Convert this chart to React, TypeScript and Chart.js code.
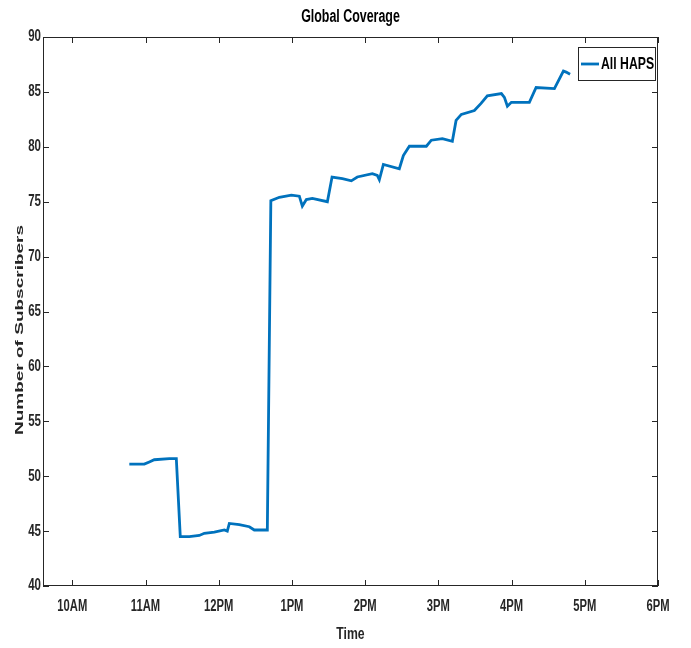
import React, { useEffect, useRef } from "react";
import { Chart, registerables } from "chart.js";

Chart.register(...registerables);

// Time of day in hours (decimal)
const hours = [
  10.779, 10.984, 11.052, 11.12, 11.325, 11.421,
  11.475, 11.598, 11.735, 11.803, 11.94, 12.077, 12.117, 12.145, 12.281, 12.418, 12.486, 12.664,
  12.712, 12.828, 12.992, 13.101, 13.142, 13.197, 13.279, 13.484,
  13.548, 13.689, 13.811, 13.893, 14.098, 14.166, 14.194,
  14.249, 14.467, 14.522, 14.604, 14.836, 14.904, 15.055, 15.191,
  15.242, 15.314, 15.492, 15.583, 15.669, 15.861, 15.902, 15.943, 15.997, 16.243,
  16.335, 16.585, 16.708, 16.745, 16.799,
];
// Number of subscribers covered by all HAPS
const subscribers = [
  51.1, 51.1, 51.3, 51.5, 51.6, 51.6,
  44.5, 44.5, 44.6, 44.8, 44.9, 45.1, 45.0, 45.7, 45.6, 45.4, 45.1, 45.1,
  75.1, 75.4, 75.6, 75.5, 74.6, 75.2, 75.3, 75.0,
  77.25, 77.1, 76.9, 77.25, 77.55, 77.4, 77.0,
  78.4, 78.0, 79.2, 80.05, 80.05, 80.6, 80.75, 80.5,
  82.4, 82.95, 83.3, 83.95, 84.65, 84.85, 84.5, 83.7, 84.05, 84.05,
  85.4, 85.3, 86.9, 86.8, 86.6,
];
const xTickHours = [10, 11, 12, 13, 14, 15, 16, 17, 18];
const xTickLabels = ["10AM", "11AM", "12PM", "1PM", "2PM", "3PM", "4PM", "5PM", "6PM"];
const yTickValues = [40, 45, 50, 55, 60, 65, 70, 75, 80, 85, 90];
const seriesLabel = "All HAPS";
const chartTitle = "Global Coverage";
const xAxisTitle = "Time";
const yAxisTitle = "Number of Subscribers";

const LINE_COLOR = "#0072BD";
const AXIS_COLOR = "#262626";
const FONT = "'Liberation Sans', Arial, sans-serif";

function condensedText(
  ctx: CanvasRenderingContext2D,
  text: string,
  x: number,
  y: number,
  size: number,
  squeeze: number,
  align: CanvasTextAlign,
  color: string
) {
  ctx.save();
  ctx.translate(x, y);
  ctx.scale(squeeze, 1);
  ctx.font = `bold ${size}px ${FONT}`;
  ctx.fillStyle = color;
  ctx.textAlign = align;
  ctx.textBaseline = "middle";
  ctx.fillText(text, 0, 0);
  ctx.restore();
}

const matlabPlugin = {
  id: "matlabDecor",
  afterDraw(chart: any) {
    const { ctx, chartArea } = chart;
    const { left, right, top, bottom } = chartArea;
    const xs = chart.scales.x;
    const ys = chart.scales.y;
    ctx.save();
    // box
    ctx.strokeStyle = AXIS_COLOR;
    ctx.lineWidth = 1;
    ctx.strokeRect(left + 0.5, top + 0.5, right - left - 1, bottom - top - 1);
    // inward ticks
    const tl = 6;
    ctx.beginPath();
    xs.ticks.forEach((t: any) => {
      const px = Math.round(xs.getPixelForValue(t.value)) + 0.5;
      ctx.moveTo(px, bottom);
      ctx.lineTo(px, bottom - tl);
      ctx.moveTo(px, top);
      ctx.lineTo(px, top + tl);
    });
    ys.ticks.forEach((t: any) => {
      const py = Math.round(ys.getPixelForValue(t.value)) + 0.5;
      ctx.moveTo(left, py);
      ctx.lineTo(left + tl, py);
      ctx.moveTo(right, py);
      ctx.lineTo(right - tl, py);
    });
    ctx.stroke();

    // tick labels
    xs.ticks.forEach((t: any) => {
      const i = xTickHours.indexOf(t.value);
      if (i < 0) return;
      condensedText(ctx, xTickLabels[i], xs.getPixelForValue(t.value), bottom + 21, 16, 0.7, "center", AXIS_COLOR);
    });
    ys.ticks.forEach((t: any) => {
      condensedText(ctx, String(t.value), left - 2, ys.getPixelForValue(t.value), 16, 0.72, "right", AXIS_COLOR);
    });

    // x axis title
    condensedText(ctx, xAxisTitle, (left + right) / 2, 634, 17, 0.72, "center", AXIS_COLOR);

    // chart title
    condensedText(ctx, chartTitle, (left + right) / 2, 17, 17.5, 0.71, "center", "#000");

    // y axis title
    ctx.save();
    ctx.translate(19.5, 330);
    ctx.rotate(-Math.PI / 2);
    ctx.scale(1, 0.62);
    ctx.font = `bold 19px ${FONT}`;
    ctx.fillStyle = AXIS_COLOR;
    ctx.textAlign = "center";
    ctx.textBaseline = "middle";
    ctx.fillText(yAxisTitle, 0, 0);
    ctx.restore();

    // legend
    const lx = 578, ly = 47, lw = 77, lh = 33;
    ctx.fillStyle = "#fff";
    ctx.fillRect(lx, ly, lw, lh);
    ctx.strokeStyle = AXIS_COLOR;
    ctx.lineWidth = 1;
    ctx.strokeRect(lx + 0.5, ly + 0.5, lw, lh);
    ctx.strokeStyle = LINE_COLOR;
    ctx.lineWidth = 2.8;
    ctx.beginPath();
    ctx.moveTo(lx + 3, ly + 17);
    ctx.lineTo(lx + 21, ly + 17);
    ctx.stroke();
    condensedText(ctx, seriesLabel, lx + 23, ly + 17, 17, 0.72, "left", "#000");
    ctx.restore();
  },
};

export default function App() {
  const canvasRef = useRef<HTMLCanvasElement | null>(null);

  useEffect(() => {
    const canvas = canvasRef.current;
    if (!canvas) return;
    const chart = new Chart(canvas, {
      type: "line",
      data: {
        datasets: [
          {
            label: seriesLabel,
            data: hours.map((h, i) => ({ x: h, y: subscribers[i] })),
            borderColor: LINE_COLOR,
            backgroundColor: LINE_COLOR,
            borderWidth: 2.8,
            pointRadius: 0,
            tension: 0,
            fill: false,
          },
        ],
      },
      options: {
        animation: false,
        responsive: false,
        devicePixelRatio: 1,
        layout: { padding: { left: 0, right: 33, top: 37, bottom: 0 } },
        plugins: {
          legend: { display: false },
          title: { display: false },
          tooltip: { enabled: false },
        },
        scales: {
          x: {
            type: "linear",
            min: 9.6,
            max: 18,
            grid: { display: false, drawTicks: false },
            border: { display: false },
            afterBuildTicks: (scale: any) => {
              scale.ticks = xTickHours.map((v) => ({ value: v }));
            },
            afterFit: (scale: any) => {
              scale.height = 62;
            },
            ticks: { display: false, autoSkip: false, maxRotation: 0 },
            title: { display: false, text: xAxisTitle },
          },
          y: {
            type: "linear",
            min: 40,
            max: 90,
            grid: { display: false, drawTicks: false },
            border: { display: false },
            afterBuildTicks: (scale: any) => {
              scale.ticks = yTickValues.map((v) => ({ value: v }));
            },
            afterFit: (scale: any) => {
              scale.width = 43;
            },
            ticks: { display: false, autoSkip: false },
            title: { display: false, text: yAxisTitle },
          },
        },
      },
      plugins: [matlabPlugin],
    });
    return () => chart.destroy();
  }, []);

  return (
    <div style={{ position: "absolute", left: 0, top: 0, width: 691, height: 648, background: "#fff" }}>
      <canvas ref={canvasRef} width={691} height={648} style={{ display: "block", width: 691, height: 648 }} />
    </div>
  );
}
